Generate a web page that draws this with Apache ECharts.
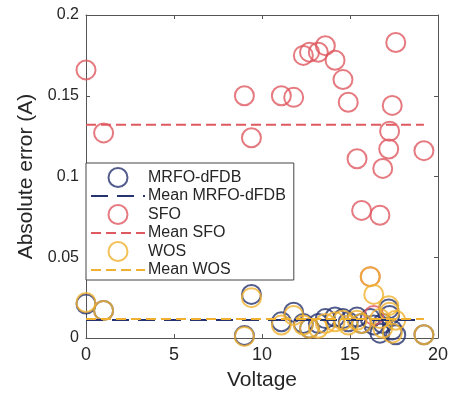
<!DOCTYPE html>
<html>
<head>
<meta charset="utf-8">
<script src="https://cdn.jsdelivr.net/npm/echarts@6/dist/echarts.min.js"></script>
<style>
  html, body { margin: 0; padding: 0; background: #fff; }
  #chart { width: 452px; height: 396px; }
</style>
</head>
<body>
<div id="chart"></div>
<script>
// shared voltage points for all three methods
const voltage = [0, 1, 9.0, 9.4, 11.1, 11.8, 12.35, 12.7, 13.2, 13.6, 14.15, 14.6, 14.9, 15.4, 15.66, 16.15, 16.35, 16.7, 16.86, 17.2, 17.25, 17.4, 17.6, 19.2];

const errMRFO = [0.021, 0.017, 0.0015, 0.027, 0.010, 0.016, 0.009, 0.006, 0.009, 0.012, 0.013, 0.012, 0.010, 0.013, 0.009, 0.012, 0.008, 0.003, 0.009, 0.018, 0.014, 0.005, 0.002, 0.002];
const errSFO = [0.166, 0.127, 0.150, 0.124, 0.150, 0.149, 0.175, 0.177, 0.177, 0.181, 0.172, 0.160, 0.146, 0.111, 0.079, 0.038, 0.014, 0.076, 0.105, 0.117, 0.128, 0.144, 0.183, 0.116];
const errWOS = [0.022, 0.017, 0.001, 0.025, 0.008, 0.014, 0.008, 0.006, 0.006, 0.009, 0.010, 0.011, 0.008, 0.011, 0.009, 0.038, 0.027, 0.012, 0.006, 0.020, 0.016, 0.003, 0.011, 0.002];

const meanMRFO = 0.0112;
const meanSFO = 0.132;
const meanWOS = 0.0118;

const NAVY = '#27336f';
const RED = '#df5960';
const ORANGE = '#f0b130';
const AXIS = '#555';

function pts(ys) {
    return voltage.map((v, i) => [v, ys[i]]);
}
function meanLine(m) {
    return [[voltage[0], m], [voltage[voltage.length - 1], m]];
}
function scatter(name, ys, color) {
    return {
        name: name,
        type: 'scatter',
        data: pts(ys),
        symbol: 'circle',
        symbolSize: 19,
        clip: false,
        itemStyle: { color: 'rgba(0,0,0,0)', borderColor: color, borderWidth: 2 }
    };
}
function mean(name, m, color, dash) {
    return {
        name: name,
        type: 'line',
        data: meanLine(m),
        symbol: 'none',
        showSymbol: false,
        lineStyle: { color: color, width: 2, type: dash },
        itemStyle: { color: color }
    };
}

const chart = echarts.init(document.getElementById('chart'));

const axisBase = {
    min: 0,
    axisLine: { show: true, onZero: false, lineStyle: { color: AXIS, width: 1 } },
    axisTick: { show: true, inside: true, length: 4, lineStyle: { color: AXIS } },
    splitLine: { show: false }
};

const noDot = { opacity: 0 };

chart.setOption({
    animation: false,
    textStyle: { fontFamily: 'Liberation Sans, Arial, sans-serif' },
    grid: { left: 86, right: 14, top: 15, bottom: 58 },
    legend: {
        orient: 'vertical',
        left: 86,
        top: 163,
        padding: [4, 8, 2, 4],
        itemWidth: 54,
        itemHeight: 19,
        itemGap: 0,
        backgroundColor: '#fff',
        borderColor: '#444',
        borderWidth: 1,
        borderRadius: 0,
        textStyle: { fontSize: 16, color: '#262626', padding: [0, 0, 0, -2] },
        data: [
            'MRFO-dFDB',
            { name: 'Mean MRFO-dFDB', itemStyle: noDot },
            'SFO',
            { name: 'Mean SFO', itemStyle: noDot },
            'WOS',
            { name: 'Mean WOS', itemStyle: noDot }
        ]
    },
    xAxis: [
        Object.assign({}, axisBase, {
            type: 'value', max: 20, interval: 5,
            name: 'Voltage', nameLocation: 'middle', nameGap: 32,
            nameTextStyle: { fontSize: 21, color: '#262626' },
            axisLabel: { fontSize: 18, color: '#262626', margin: 8 }
        }),
        Object.assign({}, axisBase, {
            type: 'value', max: 20, interval: 5, position: 'top',
            axisLabel: { show: false }
        })
    ],
    yAxis: [
        Object.assign({}, axisBase, {
            type: 'value', max: 0.2, interval: 0.05,
            name: 'Absolute error (A)', nameLocation: 'middle', nameGap: 46,
            nameTextStyle: { fontSize: 21, color: '#262626' },
            axisLabel: { fontSize: 16, color: '#262626', margin: 7 }
        }),
        Object.assign({}, axisBase, {
            type: 'value', max: 0.2, interval: 0.05, position: 'right',
            axisLabel: { show: false }
        })
    ],
    series: [
        scatter('MRFO-dFDB', errMRFO, NAVY),
        mean('Mean MRFO-dFDB', meanMRFO, NAVY, [17, 9]),
        scatter('SFO', errSFO, RED),
        mean('Mean SFO', meanSFO, RED, [10, 5]),
        scatter('WOS', errWOS, ORANGE),
        mean('Mean WOS', meanWOS, ORANGE, [10, 5])
    ]
});
</script>
</body>
</html>
